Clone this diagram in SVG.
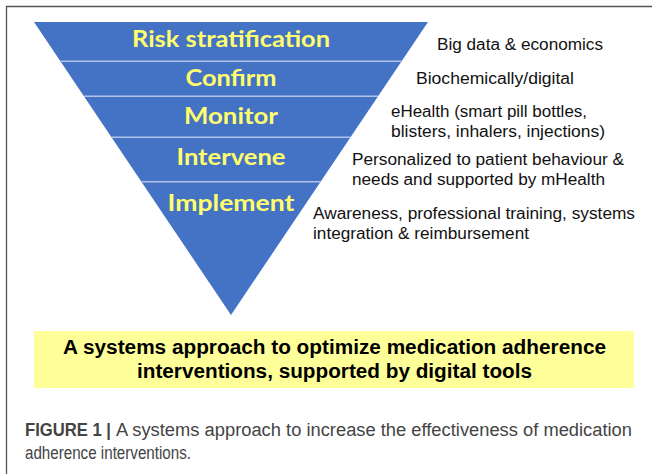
<svg xmlns="http://www.w3.org/2000/svg" width="652" height="474" viewBox="0 0 652 474">
<style>
.lbl{font-family:Lato,"Open Sans","Liberation Sans",sans-serif;font-weight:bold;font-size:22px;fill:#FFFF6E;text-anchor:middle}
.desc{font-family:"Liberation Sans",Arial,sans-serif;font-size:16px;fill:#111}
.sep{stroke:#AFC3E8;stroke-width:1.5}
.box{font-family:"Liberation Sans",Arial,sans-serif;font-weight:bold;font-size:19.5px;fill:#000;text-anchor:middle}
.cap{font-family:"Liberation Sans",Arial,sans-serif;font-size:18px;fill:#444}
</style>
<rect width="652" height="474" fill="#fff"/>
<path d="M6.5 474 V6.5 H652" fill="none" stroke="#555" stroke-width="1.3"/>
<g id="funnel">
<polygon points="34,22 428,22 231,315" fill="#4472C4"/>
</g>
<g id="connectors">
<line class="sep" x1="60.4" y1="61.3" x2="401.6" y2="61.3"/>
<line class="sep" x1="84" y1="96.3" x2="378" y2="96.3"/>
<line class="sep" x1="111.5" y1="137.3" x2="350.5" y2="137.3"/>
<line class="sep" x1="141.4" y1="181.7" x2="320.6" y2="181.7"/>
</g>
<g id="risk">
<text class="lbl" x="231" y="47" textLength="198" lengthAdjust="spacingAndGlyphs">Risk stratification</text>
<text class="desc" x="437" y="50" textLength="166" lengthAdjust="spacingAndGlyphs">Big data &amp; economics</text>
</g>
<g id="confirm">
<text class="lbl" x="231" y="86" textLength="91" lengthAdjust="spacingAndGlyphs">Confirm</text>
<text class="desc" x="416" y="84" textLength="158" lengthAdjust="spacingAndGlyphs">Biochemically/digital</text>
</g>
<g id="monitor">
<text class="lbl" x="231" y="123.5" textLength="94" lengthAdjust="spacingAndGlyphs">Monitor</text>
<text class="desc" x="391" y="117" textLength="196" lengthAdjust="spacingAndGlyphs">eHealth (smart pill bottles,</text>
<text class="desc" x="391" y="137" textLength="214" lengthAdjust="spacingAndGlyphs">blisters, inhalers, injections)</text>
</g>
<g id="intervene">
<text class="lbl" x="231" y="164.5" textLength="109" lengthAdjust="spacingAndGlyphs">Intervene</text>
<text class="desc" x="352" y="165" textLength="272" lengthAdjust="spacingAndGlyphs">Personalized to patient behaviour &amp;</text>
<text class="desc" x="352" y="185" textLength="253" lengthAdjust="spacingAndGlyphs">needs and supported by mHealth</text>
</g>
<g id="implement">
<text class="lbl" x="231" y="211" textLength="127" lengthAdjust="spacingAndGlyphs">Implement</text>
<text class="desc" x="313" y="219" textLength="322" lengthAdjust="spacingAndGlyphs">Awareness, professional training, systems</text>
<text class="desc" x="313" y="239" textLength="216" lengthAdjust="spacingAndGlyphs">integration &amp; reimbursement</text>
</g>
<g id="summary">
<rect x="34" y="331" width="600" height="57" fill="#FFFF99"/>
<text class="box" x="334.5" y="354" textLength="543" lengthAdjust="spacingAndGlyphs">A systems approach to optimize medication adherence</text>
<text class="box" x="334.5" y="378" textLength="395" lengthAdjust="spacingAndGlyphs">interventions, supported by digital tools</text>
</g>
<g id="caption">
<text class="cap" x="25" y="436" font-weight="bold" fill="#222" textLength="86" lengthAdjust="spacingAndGlyphs">FIGURE 1 |</text>
<text class="cap" x="116" y="436" textLength="516" lengthAdjust="spacingAndGlyphs">A systems approach to increase the effectiveness of medication</text>
<text class="cap" x="25" y="459" textLength="166" lengthAdjust="spacingAndGlyphs">adherence interventions.</text>
</g>
</svg>
